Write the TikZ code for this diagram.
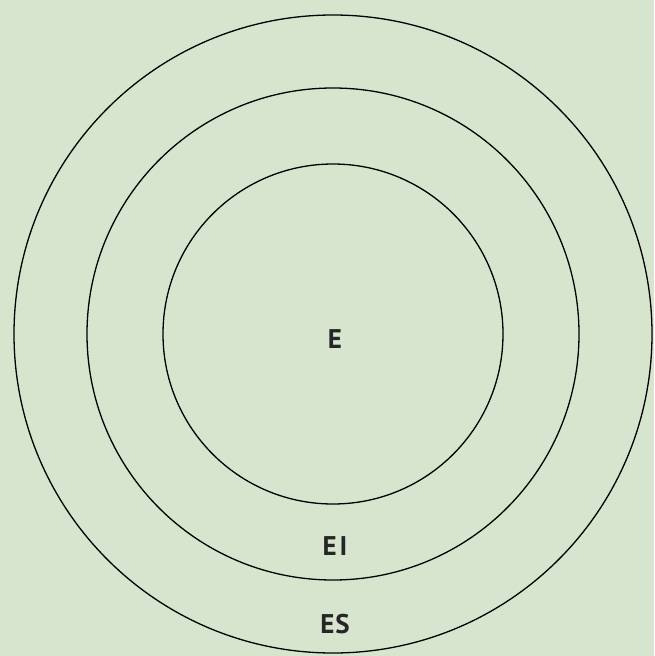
\documentclass[tikz,border=0pt]{standalone}
\usepackage{fontspec}
\setmainfont{PT Sans}
\definecolor{bggreen}{RGB}{215,229,207}
\begin{document}
\begin{tikzpicture}[x=1pt,y=-1pt,
  ring/.style={draw=black, line width=1.3pt},
  lbl/.style={font=\fontsize{27}{30}\selectfont\bfseries, text=black!85, inner sep=0pt}]
\fill[bggreen] (0,0) rectangle (654,656);
\useasboundingbox (0,0) rectangle (654,656);
\coordinate (c) at (333,334);
\draw[ring] (c) circle[radius=319];
\draw[ring] (c) circle[radius=246];
\draw[ring] (c) circle[radius=170];
\node[lbl] (e) at (335,339) {E};
\node[lbl] (ei) at (335,546) {E\kern3pt I};
\node[lbl] (es) at (335,624) {E\kern1pt S};
\end{tikzpicture}
\end{document}
